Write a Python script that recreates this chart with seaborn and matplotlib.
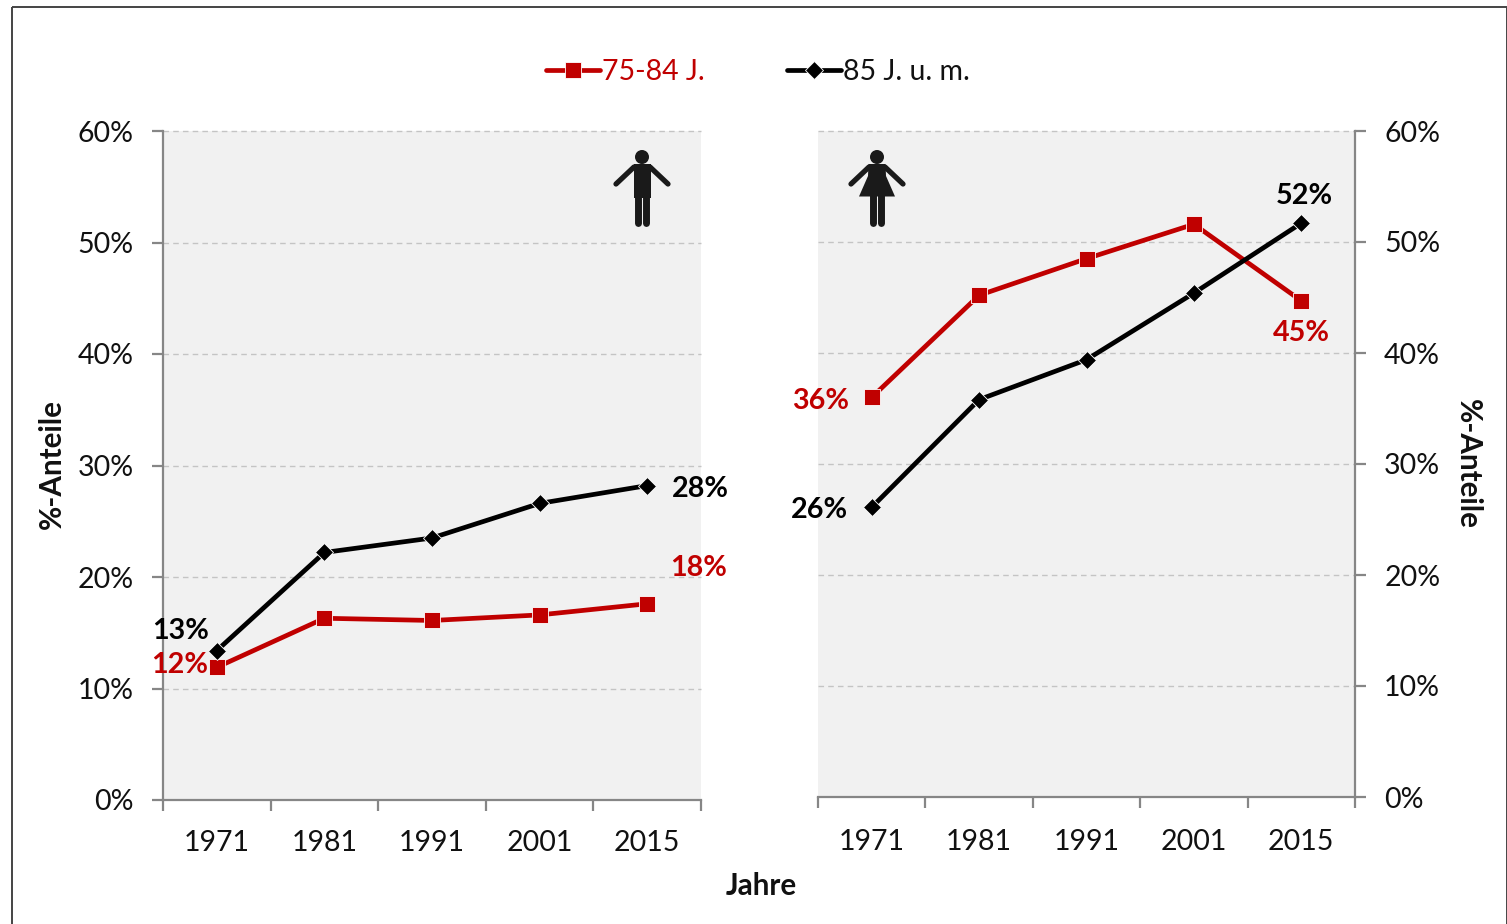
import matplotlib
matplotlib.use("Agg")
import matplotlib.pyplot as plt
from matplotlib.lines import Line2D
from matplotlib.patches import Rectangle, Circle, Polygon
import pandas as pd
import seaborn as sns

years = ["1971", "1981", "1991", "2001", "2015"]
men_75_84 = [11.9, 16.3, 16.1, 16.6, 17.6]
men_85 = [13.4, 22.2, 23.5, 26.6, 28.2]
women_75_84 = [36.0, 45.2, 48.5, 51.6, 44.7]
women_85 = [26.1, 35.8, 39.4, 45.4, 51.7]
name_a = "75-84 J."
name_b = "85 J. u. m."
RED = "#c00000"
BLACK = "#000000"
FS = 20.5
FS_B = 21.0

sns.set_theme(style="white")
plt.rcParams["font.family"] = ["Lato", "DejaVu Sans"]

W, H = 1507, 924
fig = plt.figure(figsize=(W / 100, H / 100), dpi=100, facecolor="white")


def make_ax(l, r, t, b):
    return fig.add_axes([l / W, 1 - b / H, (r - l) / W, (b - t) / H])


def series(ax, vals, color, marker, ms):
    df = pd.DataFrame({"pos": range(len(years)), "share": vals})
    sns.lineplot(data=df, x="pos", y="share", color=color, marker=marker, markersize=ms,
                 linewidth=3.4, markeredgecolor="white", markeredgewidth=0.6,
                 legend=False, ax=ax, errorbar=None, zorder=3)


def style(ax, a_vals, b_vals, where, xpad):
    series(ax, a_vals, RED, "s", 11)
    series(ax, b_vals, BLACK, "D", 9.5)
    ax.set_xlim(-0.5, 4.5)
    ax.set_ylim(0, 60)
    ax.set_facecolor("#f1f1f1")
    ax.set_yticks(range(0, 61, 10))
    ax.set_yticklabels([f"{v}%" for v in range(0, 61, 10)], fontsize=FS, color="#111111")
    ax.set_xticks([-0.5, 0.5, 1.5, 2.5, 3.5, 4.5])
    ax.set_xticklabels([])
    ax.set_xticks(range(5), minor=True)
    ax.set_xticklabels(years, minor=True, fontsize=FS, color="#111111")
    ax.tick_params(axis="x", which="major", length=8, width=1.6, color="#868686", bottom=True)
    ax.tick_params(axis="x", which="minor", length=0, pad=xpad)
    ax.tick_params(axis="y", length=8, width=1.6, color="#868686", pad=13,
                   left=where == "left", right=where == "right",
                   labelleft=where == "left", labelright=where == "right")
    ax.grid(False)
    for v in range(10, 61, 10):
        ax.axhline(v, color="#c4c4c4", lw=1.0, ls=(0, (4, 3)), zorder=1, clip_on=False)
    for s in ax.spines.values():
        s.set_visible(False)
    for s in ("bottom", where):
        ax.spines[s].set_visible(True)
        ax.spines[s].set_color("#868686")
        ax.spines[s].set_linewidth(1.6)
    ax.set_xlabel("")
    ax.set_ylabel("")


left = make_ax(163, 701, 131, 800)
right = make_ax(818, 1355, 131, 797)
style(left, men_75_84, men_85, "left", 21.5)
style(right, women_75_84, women_85, "right", 23)


def label(ax, x, y, txt, color):
    ax.annotate(txt, xy=(x, y), xycoords="data", ha="center", va="center", fontsize=FS_B - 0.3,
                fontweight="bold", color=color, zorder=5, annotation_clip=False)


label(left, -0.333, men_85[0] + 1.72, "13%", BLACK)
label(left, -0.35, men_75_84[0] + 0.2, "12%", RED)
label(left, 4.49, men_85[4] - 0.28, "28%", BLACK)
label(left, 4.48, men_75_84[4] + 3.22, "18%", RED)
label(right, -0.48, women_75_84[0] - 0.28, "36%", RED)
label(right, -0.49, women_85[0] - 0.28, "26%", BLACK)
label(right, 4.03, women_85[4] + 2.43, "52%", BLACK)
label(right, 4.0, women_75_84[4] - 2.88, "45%", RED)

# Overlay in pixel coordinates for the frame and pictograms
ov = fig.add_axes([0, 0, 1, 1], facecolor="none", zorder=10)
ov.set_xlim(0, W)
ov.set_ylim(H, 0)
ov.axis("off")
ov.add_patch(Rectangle((12, 7), 1494.5, H + 20, fill=False, ec="#444444", lw=1.4))


def limb(x, y, lw):
    ov.add_line(Line2D(x, y, color="k", lw=lw, solid_capstyle="round"))


def person(cx, dress):
    ov.add_patch(Circle((cx, 157), 7, fc="k", ec="none"))
    limb([cx - 8, cx - 26], [167, 184], 3.8)
    limb([cx + 8, cx + 26], [167, 184], 3.8)
    limb([cx - 4.4, cx - 4.4], [190, 223], 5.0)
    limb([cx + 4.4, cx + 4.4], [190, 223], 5.0)
    if dress:
        ov.add_patch(Polygon([(cx - 8.5, 164), (cx + 8.5, 164), (cx + 9, 176), (cx + 18, 196.5),
                              (cx - 18, 196.5), (cx - 9, 176)], closed=True, fc="k", ec="none"))
    else:
        ov.add_patch(Rectangle((cx - 8.5, 164), 17, 34, fc="k", ec="none"))


person(642, False)
person(877, True)

fig.text(52 / W, 1 - 464 / H, "%-Anteile", rotation=90, ha="center", va="center",
         fontsize=FS_B + 0.3, fontweight="bold", color="#111111")
fig.text(1468 / W, 1 - 464 / H, "%-Anteile", rotation=-90, ha="center", va="center",
         fontsize=FS_B + 0.3, fontweight="bold", color="#111111")
fig.text(761 / W, 1 - 886 / H, "Jahre", ha="center", va="center",
         fontsize=FS_B + 0.3, fontweight="bold", color="#111111")

h = [Line2D([], [], color=RED, lw=3.4, marker="s", ms=11, mec="white", mew=0.6),
     Line2D([], [], color=BLACK, lw=3.4, marker="D", ms=9.5, mec="white", mew=0.6)]
leg = fig.legend(h, [name_a, name_b], ncol=2, frameon=False, fontsize=FS,
                 loc="center", bbox_to_anchor=(758 / W, 1 - 71.5 / H),
                 handlelength=1.9, handletextpad=0.06, columnspacing=2.9)
for t, c in zip(leg.get_texts(), (RED, "#111111")):
    t.set_color(c)

fig.savefig("out.png", dpi=100)
